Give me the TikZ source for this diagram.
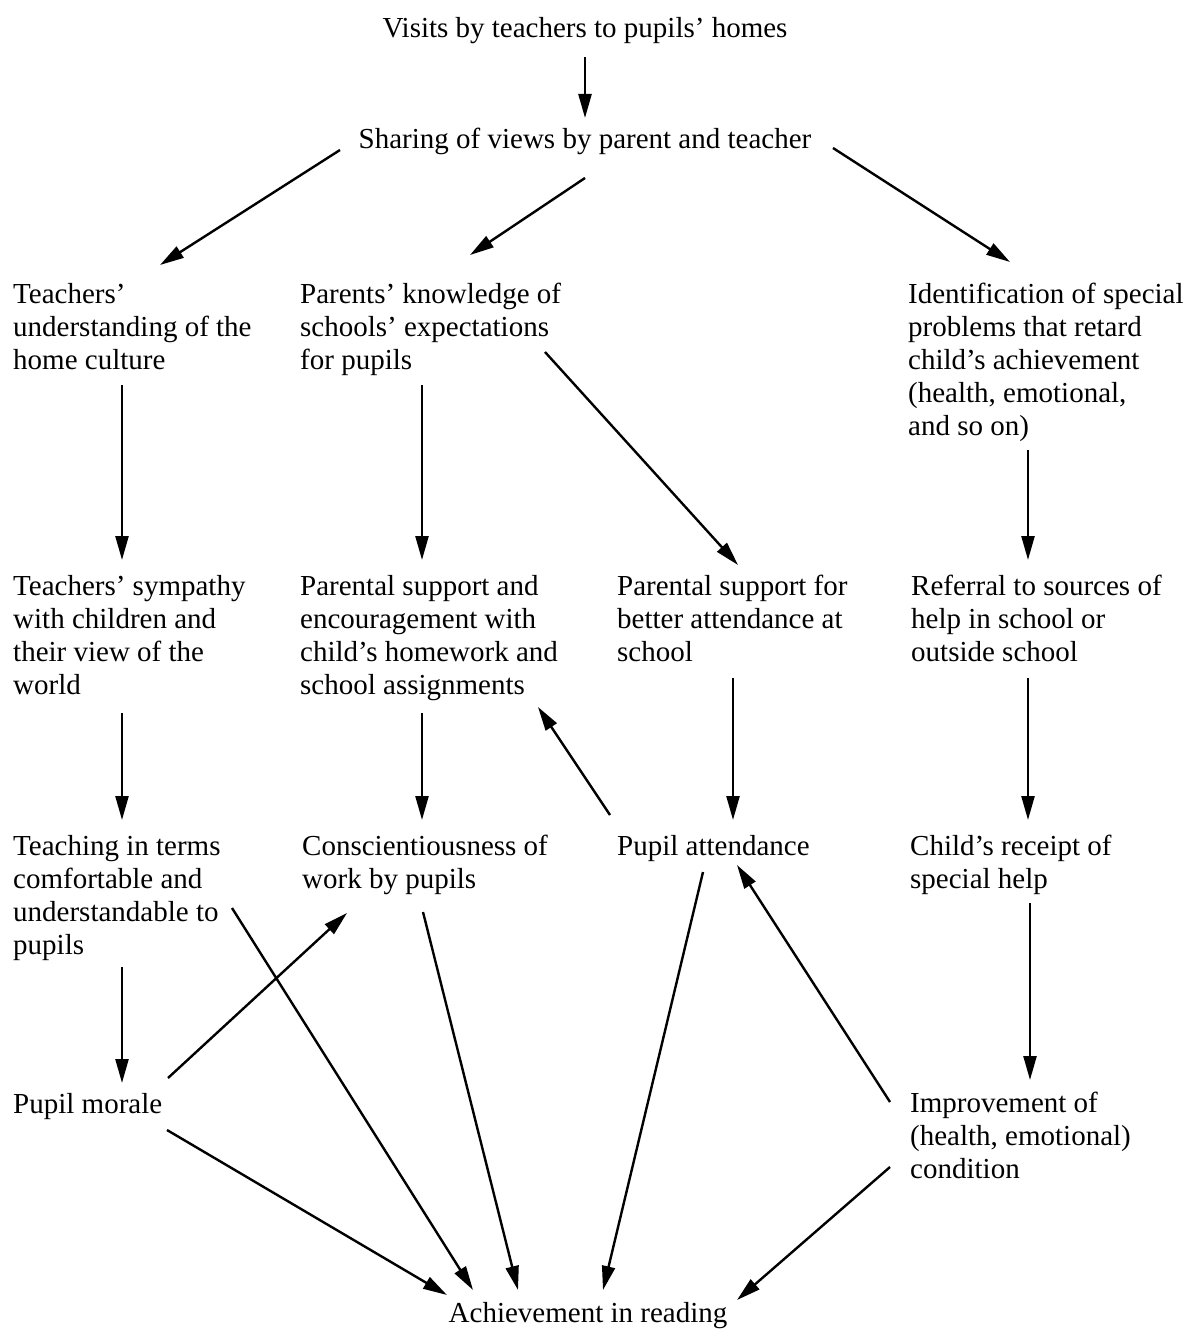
\documentclass[tikz,border=0pt]{standalone}
\usepackage{fontspec}
\setmainfont{Liberation Serif}
\usetikzlibrary{arrows.meta}
% first-line strut: fixes the height of every label's top line
\newcommand\firstln{\rule{0pt}{22pt}}
\begin{document}
\begin{tikzpicture}[x=1pt,y=-1pt,
  txt/.style={font=\fontsize{29pt}{33pt}\selectfont, inner sep=0pt, align=left, anchor=north west},
  ctr/.style={font=\fontsize{29pt}{33pt}\selectfont, inner sep=0pt, anchor=north},
  arr/.style={line width=2.4pt, -{Triangle[length=24pt,width=13pt]}}]
\useasboundingbox[fill=white] (0,0) rectangle (1189,1329);

% labels
\node[ctr] (visits) at (585,15) {\firstln Visits by teachers to pupils’ homes};
\node[ctr] (share) at (585,126) {\firstln Sharing of views by parent and teacher};

\node[txt] (tu) at (13,281) {\firstln Teachers’\\understanding of the\\home culture};
\node[txt] (pk) at (300,281) {\firstln Parents’ knowledge of\\schools’ expectations\\for pupils};
\node[txt] (id) at (908,281) {\firstln Identification of special\\problems that retard\\child’s achievement\\(health, emotional,\\and so on)};

\node[txt] (ts) at (13,573) {\firstln Teachers’ sympathy\\with children and\\their view of the\\world};
\node[txt] (ps) at (300,573) {\firstln Parental support and\\encouragement with\\child’s homework and\\school assignments};
\node[txt] (pa) at (617,573) {\firstln Parental support for\\better attendance at\\school};
\node[txt] (rf) at (911,573) {\firstln Referral to sources of\\help in school or\\outside school};

\node[txt] (tt) at (13,833) {\firstln Teaching in terms\\comfortable and\\understandable to\\pupils};
\node[txt] (cw) at (302,833) {\firstln Conscientiousness of\\work by pupils};
\node[txt] (pat) at (617,833) {\firstln Pupil attendance};
\node[txt] (cr) at (910,833) {\firstln Child’s receipt of\\special help};

\node[txt] (pm) at (13,1091) {\firstln Pupil morale};
\node[txt] (im) at (910,1090) {\firstln Improvement of\\(health, emotional)\\condition};

\node[ctr] (ach) at (588,1300) {\firstln Achievement in reading};

% connectors
\draw[arr] ([shift={(0,42)}]visits.north) -- ([shift={(0,-8)}]share.north);
\draw[arr] ([shift={(-245,24)}]share.north) -- ([shift={(147,-16)}]tu.north west);
\draw[arr] ([shift={(0,52)}]share.north) -- ([shift={(170,-26)}]pk.north west);
\draw[arr] ([shift={(248,22)}]share.north) -- ([shift={(102,-19)}]id.north west);

\draw[arr] ([shift={(109,104)}]tu.north west) -- ([shift={(109,-13)}]ts.north west);
\draw[arr] ([shift={(122,104)}]pk.north west) -- ([shift={(122,-13)}]ps.north west);
\draw[arr] ([shift={(245,71)}]pk.north west) -- ([shift={(121,-8)}]pa.north west);
\draw[arr] ([shift={(120,169)}]id.north west) -- ([shift={(117,-13)}]rf.north west);

\draw[arr] ([shift={(109,140)}]ts.north west) -- ([shift={(109,-13)}]tt.north west);
\draw[arr] ([shift={(122,140)}]ps.north west) -- ([shift={(120,-13)}]cw.north west);
\draw[arr] ([shift={(116,105)}]pa.north west) -- ([shift={(116,-13)}]pat.north west);
\draw[arr] ([shift={(-7,-18)}]pat.north west) -- ([shift={(238,134)}]ps.north west);
\draw[arr] ([shift={(117,105)}]rf.north west) -- ([shift={(118,-13)}]cr.north west);

\draw[arr] ([shift={(109,134)}]tt.north west) -- ([shift={(109,-8)}]pm.north west);
\draw[arr] ([shift={(120,70)}]cr.north west) -- ([shift={(120,-10)}]im.north west);
\draw[arr] ([shift={(155,-13)}]pm.north west) -- ([shift={(45,80)}]cw.north west);

\draw[arr] ([shift={(219,75)}]tt.north west) -- ([shift={(-115,-10)}]ach.north);
\draw[arr] ([shift={(121,79)}]cw.north west) -- ([shift={(-70,-10)}]ach.north);
\draw[arr] ([shift={(154,39)}]pm.north west) -- ([shift={(-141,-5)}]ach.north);
\draw[arr] ([shift={(86,39)}]pat.north west) -- ([shift={(15,-10)}]ach.north);
\draw[arr] ([shift={(-20,12)}]im.north west) -- ([shift={(120,32)}]pat.north west);
\draw[arr] ([shift={(-20,77)}]im.north west) -- ([shift={(149,0)}]ach.north);
\end{tikzpicture}
\end{document}
